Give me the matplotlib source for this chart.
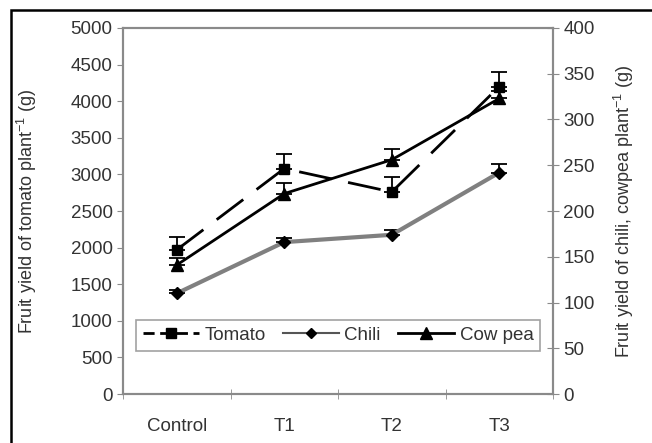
import numpy as np
import matplotlib.pyplot as plt
from matplotlib.lines import Line2D
from matplotlib.patches import Rectangle

plt.rcParams['font.family'] = ['Liberation Sans', 'DejaVu Sans']
plt.rcParams['mathtext.fontset'] = 'custom'
plt.rcParams['mathtext.rm'] = 'Liberation Sans'
plt.rcParams['mathtext.it'] = 'Liberation Sans:italic'

categories = ['Control', 'T1', 'T2', 'T3']
tomato = [1970, 3080, 2760, 4200]
tomato_err = [180, 205, 205, 195]
chili = [110, 166, 174, 242]
chili_err = [4, 5, 5, 9]
cowpea = [141, 219, 256, 323]
cowpea_err = [8, 12, 12, 8]

txt = '#333333'
spine = '#8a8a8a'
fs = 13.5

fig = plt.figure(figsize=(6.52, 4.43), dpi=100)
ax = fig.add_axes([0.1887, 0.1106, 0.6595, 0.8262])
ax2 = ax.twinx()

x = np.arange(len(categories))
tom_dash = (12, 6)

# tomato on left axis
ax.errorbar(x, tomato, yerr=[np.zeros(4), tomato_err], color='black', lw=2,
            dashes=tom_dash, marker='s', ms=7, capsize=6, elinewidth=1.3,
            capthick=1.3)

# chili and cow pea on right axis
ax2.errorbar(x, chili, yerr=[np.zeros(4), chili_err], color='#808080', lw=3,
             marker='D', ms=6, mfc='black', mec='black', ecolor='black',
             capsize=6, elinewidth=1.3, capthick=1.3)
ax2.errorbar(x, cowpea, yerr=[np.zeros(4), cowpea_err], color='black', lw=2,
             marker='^', ms=9, capsize=6, elinewidth=1.3, capthick=1.3)

ax.set_xlim(-0.5, 3.5)
ax.set_ylim(0, 5000)
ax.set_yticks(np.arange(0, 5001, 500))
ax2.set_ylim(0, 400)
ax2.set_yticks(np.arange(0, 401, 50))

ax.set_xticks(x)
ax.set_xticklabels(categories)
ax.set_xticks(np.arange(-0.5, 3.6, 1), minor=True)
ax.tick_params(axis='x', which='major', length=0, pad=17, labelsize=fs, labelcolor=txt)
ax.tick_params(axis='x', which='minor', direction='inout', length=7, color=spine)
ax.tick_params(axis='y', direction='out', length=4, color=spine, labelsize=fs, labelcolor=txt)
ax2.tick_params(axis='y', direction='inout', length=8, color=spine, labelsize=fs, labelcolor=txt)

for a in (ax, ax2):
    for s in a.spines.values():
        s.set_color(spine)
        s.set_linewidth(1.5)

ax.set_ylabel('Fruit yield of tomato plant$^{-1}$ (g)', fontsize=13, color=txt)
ax2.set_ylabel('Fruit yield of chili, cowpea plant$^{-1}$ (g)', fontsize=13, color=txt,
               rotation=90)
ax.yaxis.set_label_coords(-0.195, 0.5)
ax2.yaxis.set_label_coords(1.138, 0.5)

handles = [
    Line2D([], [], color='black', lw=2, dashes=(4, 2), marker='s', ms=7),
    Line2D([], [], color='#555555', lw=1.5, marker='D', ms=5, mfc='black', mec='black'),
    Line2D([], [], color='black', lw=2, marker='^', ms=8),
]
leg = ax2.legend(handles, ['Tomato', 'Chili', 'Cow pea'], loc='center',
                 bbox_to_anchor=(0.5, 0.16), ncol=3, fontsize=fs, frameon=True,
                 fancybox=False, handlelength=3.0, handletextpad=0.3,
                 columnspacing=0.9, borderpad=0.35, borderaxespad=0,
                 labelcolor=txt)
leg.get_frame().set_edgecolor(spine)
leg.get_frame().set_linewidth(1.2)

# outer border of the figure
fig.patches.append(Rectangle((11 / 652, -0.05), 1.2, 1 - 10 / 443 + 0.05,
                             transform=fig.transFigure, fill=False,
                             edgecolor='black', lw=1.8))

fig.savefig('out.png', dpi=100)
